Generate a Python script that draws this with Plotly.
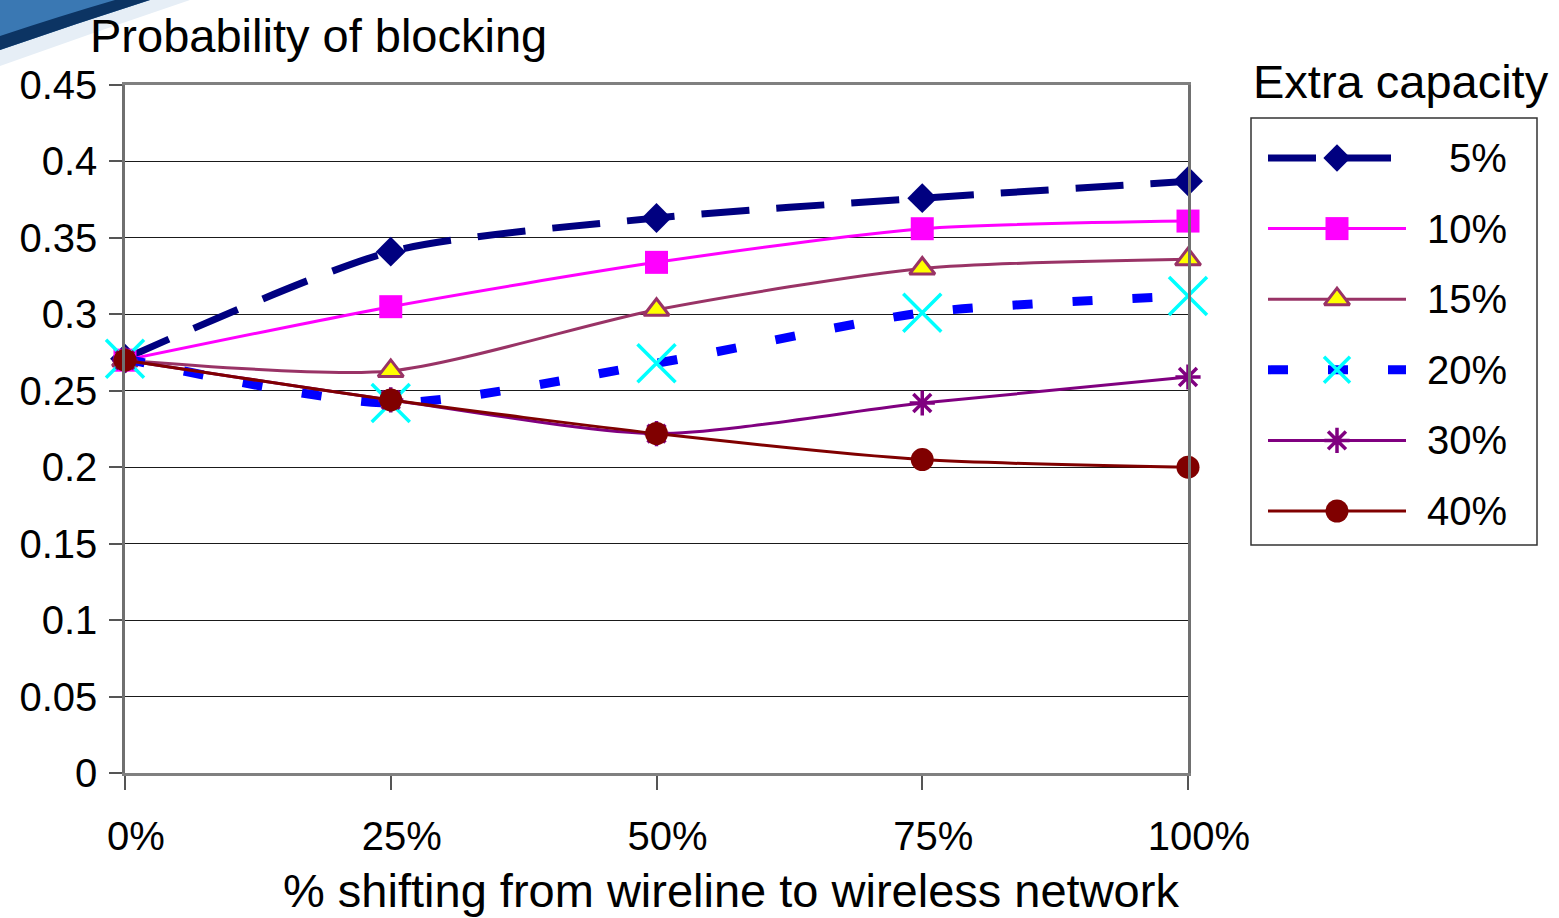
import plotly.graph_objects as go

W, H = 1559, 918

# Share of traffic shifted from wireline to wireless
shift_pos = [0, 1, 2, 3, 4]
shift_labels = ["0%", "25%", "50%", "75%", "100%"]

# Probability of blocking for each amount of extra capacity
cap_names = ["5%", "10%", "15%", "20%", "30%", "40%"]
block_5 = [0.271, 0.341, 0.363, 0.376, 0.387]
block_10 = [0.270, 0.305, 0.334, 0.356, 0.361]
block_15 = [0.270, 0.263, 0.303, 0.330, 0.336]
block_20 = [0.271, 0.242, 0.268, 0.301, 0.312]
block_30 = [0.270, 0.244, 0.222, 0.242, 0.259]
block_40 = [0.270, 0.244, 0.222, 0.205, 0.200]

y_ticks = [0, 0.05, 0.1, 0.15, 0.2, 0.25, 0.3, 0.35, 0.4, 0.45]
y_tick_text = ["0", "0.05", "0.1", "0.15", "0.2", "0.25", "0.3", "0.35", "0.4", "0.45"]

series_values = [block_5, block_10, block_15, block_20, block_30, block_40]

line_styles = [
    dict(color="#000080", width=7, dash="48px,27px"),
    dict(color="#FF00FF", width=3),
    dict(color="#993366", width=3),
    dict(color="#0000FF", width=9, dash="20px,40px"),
    dict(color="#800080", width=3),
    dict(color="#800000", width=3),
]
marker_styles = [
    dict(symbol="diamond", size=23, color="#000080"),
    dict(symbol="square", size=23, color="#FF00FF"),
    dict(symbol="triangle-up", size=22, color="#FFFF00",
         line=dict(color="#993366", width=3)),
    dict(symbol="x-thin", size=38, color="#00FFFF",
         line=dict(color="#00FFFF", width=3.5)),
    dict(symbol="asterisk", size=21, color="#800080",
         line=dict(color="#800080", width=3.5)),
    dict(symbol="circle", size=23, color="#800000"),
]
# the cross marker is drawn smaller in the key than on the chart
key_marker_sizes = [21, 23, 22, 26, 21, 23]

FONT = "Liberation Sans, Arial, sans-serif"


def px(x):
    return x / W


def py(y):
    return 1 - y / H


# plot area in pixels
L, R, T, B = 125, 1188, 85, 773

fig = go.Figure()

for name, vals, ls, ms in zip(cap_names, series_values, line_styles, marker_styles):
    fig.add_trace(go.Scatter(
        x=shift_pos, y=vals, name=name, mode="lines+markers",
        line=dict(shape="spline", smoothing=0.7, **ls),
        marker=ms, cliponaxis=False, showlegend=False,
    ))

# key samples drawn on their own small axes
for i, (ls, ms) in enumerate(zip(line_styles, marker_styles)):
    fig.add_trace(go.Scatter(
        x=[0, 1], y=[i, i], mode="lines", line=ls,
        xaxis="x2", yaxis="y2", showlegend=False, hoverinfo="skip",
        cliponaxis=False,
    ))
    km = dict(ms)
    km["size"] = key_marker_sizes[i]
    fig.add_trace(go.Scatter(
        x=[0.5], y=[i], mode="markers", marker=km,
        xaxis="x2", yaxis="y2", showlegend=False, hoverinfo="skip",
        cliponaxis=False,
    ))

row0, row_step = 158, 70.6
key_top_val = (0 - row0) / row_step
key_bot_val = (H - row0) / row_step

annotations = []
for i, name in enumerate(cap_names):
    annotations.append(dict(
        x=px(1509), y=i, xref="paper", yref="y2", text=name,
        xanchor="right", yanchor="middle", showarrow=False,
        font=dict(family=FONT, size=40, color="#000000"),
    ))

annotations += [
    dict(x=px(88), y=py(35), xref="paper", yref="paper",
         text="Probability of blocking", xanchor="left", yanchor="middle",
         showarrow=False, font=dict(family=FONT, size=47, color="#000000")),
    dict(x=px(1251), y=py(81), xref="paper", yref="paper",
         text="Extra capacity", xanchor="left", yanchor="middle",
         showarrow=False, font=dict(family=FONT, size=47, color="#000000")),
    dict(x=px(731), y=py(890), xref="paper", yref="paper",
         text="% shifting from wireline to wireless network",
         xanchor="center", yanchor="middle", showarrow=False,
         font=dict(family=FONT, size=47, color="#000000")),
]


def path(points_cmds):
    out = []
    for cmd, pts in points_cmds:
        coords = " ".join(f"{px(x):.5f},{py(y):.5f}" for x, y in pts)
        out.append(f"{cmd} {coords}")
    return " ".join(out) + " Z"


shapes = [
    # key box
    dict(type="rect", xref="paper", yref="paper",
         x0=px(1251), x1=px(1537), y0=py(118), y1=py(545),
         line=dict(color="#333333", width=1.5), fillcolor="rgba(0,0,0,0)",
         layer="below"),
    # template swoosh in the corner
    dict(type="path", xref="paper", yref="paper", layer="below",
         path=path([("M", [(0, 0)]), ("L", [(190, 0)]),
                    ("Q", [(95, 32), (0, 66)])]),
         fillcolor="#e6eef6", line=dict(width=0)),
    dict(type="path", xref="paper", yref="paper", layer="below",
         path=path([("M", [(0, 0)]), ("L", [(150, 0)]),
                    ("Q", [(75, 24), (0, 50)])]),
         fillcolor="#3a78b3", line=dict(width=0)),
    dict(type="path", xref="paper", yref="paper", layer="below",
         path=path([("M", [(150, 0)]), ("Q", [(75, 24), (0, 50)]),
                    ("L", [(0, 36)]), ("Q", [(60, 16), (115, 0)])]),
         fillcolor="#0c3463", line=dict(width=0)),
]

fig.update_layout(
    width=W, height=H, autosize=False,
    margin=dict(l=0, r=0, t=0, b=0, pad=0),
    paper_bgcolor="#FFFFFF", plot_bgcolor="#FFFFFF",
    font=dict(family=FONT, size=40, color="#000000"),
    showlegend=False,
    annotations=annotations,
    shapes=shapes,
    xaxis=dict(
        domain=[px(L), px(R)], range=[0, 4], automargin=False,
        tickvals=shift_pos, ticktext=shift_labels,
        ticks="outside", ticklen=14, tickwidth=1.5, tickcolor="#555555",
        ticklabelshift=11, ticklabelstandoff=12,
        showline=True, linecolor="#808080", linewidth=3, mirror=True,
        showgrid=False, zeroline=False, fixedrange=True,
        tickfont=dict(family=FONT, size=40, color="#000000"),
    ),
    yaxis=dict(
        domain=[py(B), py(T)], range=[0, 0.45], automargin=False,
        tickvals=y_ticks, ticktext=y_tick_text,
        ticks="outside", ticklen=13, tickwidth=1.5, tickcolor="#555555",
        ticklabelstandoff=4,
        showline=True, linecolor="#707070", linewidth=2.5, mirror=True,
        showgrid=True, gridcolor="#1a1a1a", gridwidth=1,
        zeroline=False, fixedrange=True,
        tickfont=dict(family=FONT, size=40, color="#000000"),
    ),
    xaxis2=dict(domain=[px(1268), px(1406)], range=[0, 1], anchor="y2",
                visible=False, fixedrange=True, automargin=False),
    yaxis2=dict(domain=[0, 1], range=[key_bot_val, key_top_val], anchor="x2",
                visible=False, fixedrange=True, automargin=False),
)

fig.write_html(
    "out.html",
    config={"responsive": False, "displayModeBar": False},
    post_script="document.body.style.margin='0';",
)
